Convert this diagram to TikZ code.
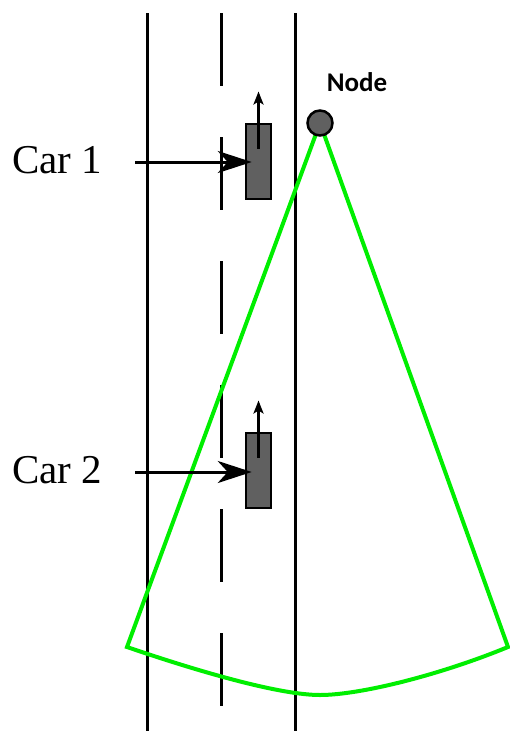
\documentclass[tikz,border=0pt]{standalone}
\usepackage{fontspec}
\setmainfont{Liberation Serif}
\newfontfamily\nodefont{Carlito}
\usetikzlibrary{arrows.meta}
\definecolor{cargray}{HTML}{606060}
\definecolor{sector}{HTML}{00EE00}
\tikzset{
  road/.style={line width=3pt, black},
  lane/.style={line width=3pt, black, dash pattern=on 73pt off 51pt},
  carbox/.style={draw=black, fill=cargray, line width=2.5pt, minimum width=25pt, minimum height=75pt, inner sep=0pt},
  headarrow/.style={line width=2.5pt, -{Stealth[length=13pt, width=10pt, inset=3pt]}},
  pointer/.style={line width=3pt, -{Stealth[length=34pt, width=22pt, inset=10pt]}},
  carlabel/.style={font=\fontsize{41}{45}\selectfont, inner sep=0pt},
  sectorline/.style={draw=sector, line width=4pt, line join=miter},
  basenode/.style={circle, draw=black, fill=cargray, line width=2.5pt, minimum size=25pt, inner sep=0pt}
}
\begin{document}
\begin{tikzpicture}[x=1pt, y=-1pt]
\useasboundingbox (0,0) rectangle (509,731);
% road
\coordinate (lt) at (147,13);
\coordinate (lb) at (147,731);
\coordinate (rt) at (295,13);
\coordinate (rb) at (295,731);
\coordinate (mt) at (221,13);
\coordinate (mb) at (221,731);
\draw[road] (lt) -- (lb);
\draw[road] (rt) -- (rb);
\draw[lane] (mt) -- (mb);
% sector
\coordinate (apex) at (320,123);
\coordinate (sl) at (127,647);
\coordinate (sr) at (508,647);
\coordinate (sb) at (320,695);
\draw[sectorline] (apex) -- (sl) .. controls (200,672) and (280,695) .. (sb)
  .. controls (360,695) and (440,675) .. (sr) -- cycle;
% base node
\node[basenode] (bs) at (apex) {};
\node[font=\nodefont\bfseries\fontsize{27}{30}\selectfont, inner sep=0pt] (bslabel) at (357,82) {Node};
% cars
\node[carbox] (car1) at (258.5,161.5) {};
\node[carbox] (car2) at (258.5,470.5) {};
\draw[headarrow] ([yshift=13pt]car1.center) -- ([yshift=70pt]car1.center);
\draw[headarrow] ([yshift=13pt]car2.center) -- ([yshift=70pt]car2.center);
% labels
\node[carlabel] (l1) at (57,160) {Car 1};
\node[carlabel] (l2) at (57,470) {Car 2};
\coordinate (p1) at (135,162);
\coordinate (p2) at (135,472);
\draw[pointer] (p1) -- ([xshift=7pt]car1.west |- p1);
\draw[pointer] (p2) -- ([xshift=7pt]car2.west |- p2);
\end{tikzpicture}
\end{document}
